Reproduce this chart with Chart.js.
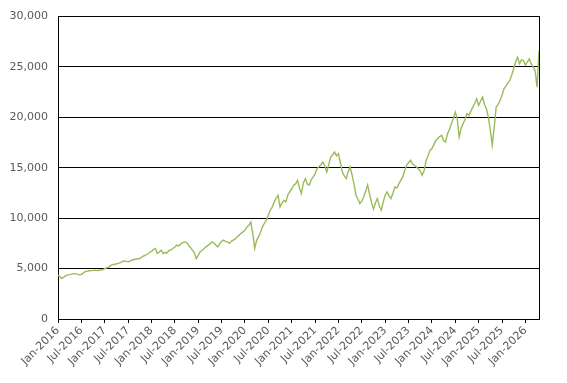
<!DOCTYPE html>
<html>
<head>
<meta charset="utf-8">
<script src="https://cdn.jsdelivr.net/npm/chart.js@4"></script>
<style>
  html, body { margin: 0; padding: 0; background: #fff; }
  #wrap { width: 567px; height: 383px; }
</style>
</head>
<body>
<div id="wrap"><canvas id="c" width="567" height="383"></canvas></div>
<script>
// one value every half month, starting Jan-2016
const stepMonths = 0.5;
const values = [
  // 2016
  4350, 4200, 4030, 4150, 4300, 4380, 4400, 4450, 4500, 4480, 4450, 4380,
  4420, 4550, 4700, 4750, 4780, 4800, 4820, 4850, 4800, 4830, 4850, 4900,
  // 2017
  5000, 5080, 5150, 5300, 5420, 5400, 5480, 5520, 5600, 5700, 5770, 5720,
  5680, 5750, 5850, 5900, 5950, 5970, 6000, 6150, 6250, 6340, 6450, 6600,
  // 2018
  6700, 6900, 7000, 6500, 6650, 6830, 6500, 6600, 6550, 6800, 6850, 7000,
  7150, 7330, 7250, 7450, 7550, 7650, 7600, 7330, 7100, 6830, 6600, 6000,
  // 2019
  6300, 6670, 6800, 7000, 7160, 7300, 7450, 7650, 7550, 7350, 7160, 7450,
  7700, 7820, 7700, 7650, 7500, 7700, 7820, 7950, 8150, 8320, 8500, 8640,
  // 2020
  8800, 9140, 9300, 9630, 8500, 7000, 7800, 8150, 8600, 9140, 9500, 9800,
  10300, 10790, 11100, 11600, 12000, 12280, 11120, 11500, 11780, 11600, 12300, 12600,
  // 2021
  12900, 13270, 13400, 13760, 13000, 12440, 13500, 13930, 13400, 13270, 13800, 14090,
  14400, 14920, 15100, 15300, 15570, 15200, 14580, 15300, 16070, 16300, 16560, 16200,
  // 2022
  16400, 15500, 14580, 14200, 13930, 14600, 15080, 14300, 13400, 12280, 11900, 11450,
  11700, 12110, 12700, 13300, 12400, 11600, 10900, 11500, 11950, 11200, 10790, 11600,
  // 2023
  12300, 12600, 12200, 11950, 12500, 13100, 13000, 13400, 13760, 14090, 14700, 15250,
  15500, 15740, 15400, 15250, 15100, 14900, 14700, 14260, 14700, 15740, 16200, 16730,
  // 2024
  16900, 17300, 17720, 17900, 18100, 18220, 17700, 17550, 18380, 18800, 19370, 19900,
  20520, 19900, 18050, 18900, 19370, 19800, 20360, 20200, 20600, 21020, 21400, 21850,
  // 2025
  21190, 21600, 22010, 21300, 20860, 20030, 18710, 17230, 19040, 21020, 21300, 21680,
  22200, 22840, 23100, 23400, 23660, 24200, 24820, 25500, 25970, 25310, 25700, 25640,
  // 2026
  25200, 25480, 25810, 25300, 24980, 24650, 23000, 26630
];

const tickMonths = [0, 6, 12, 18, 24, 30, 36, 42, 48, 54, 60, 66, 72, 78, 84, 90, 96, 102, 108, 114, 120];
const tickLabels = ['Jan-2016', 'Jul-2016', 'Jan-2017', 'Jul-2017', 'Jan-2018', 'Jul-2018',
  'Jan-2019', 'Jul-2019', 'Jan-2020', 'Jul-2020', 'Jan-2021', 'Jul-2021', 'Jan-2022',
  'Jul-2022', 'Jan-2023', 'Jul-2023', 'Jan-2024', 'Jul-2024', 'Jan-2025', 'Jul-2025', 'Jan-2026'];

const points = values.map((v, i) => ({ x: i * stepMonths, y: v }));
const lastMonth = (values.length - 1) * stepMonths;

const font = { family: 'DejaVu Sans', size: 11 };

new Chart(document.getElementById('c'), {
  type: 'line',
  data: {
    datasets: [{
      data: points,
      borderColor: '#9BBB59',
      borderWidth: 1.4,
      pointRadius: 0,
      tension: 0,
      fill: false
    }]
  },
  options: {
    responsive: false,
    animation: false,
    layout: { padding: { left: 0, top: 16, right: 28, bottom: 0 } },
    plugins: { legend: { display: false }, tooltip: { enabled: false } },
    scales: {
      x: {
        type: 'linear',
        min: 0,
        max: lastMonth,
        afterBuildTicks: (axis) => { axis.ticks = tickMonths.map(v => ({ value: v })); },
        afterFit: (axis) => { axis.height = 64; },
        grid: { drawOnChartArea: false, drawTicks: true, tickLength: 4, color: '#000' },
        border: { display: true, color: '#000', width: 1 },
        ticks: {
          autoSkip: false,
          maxRotation: 45,
          minRotation: 45,
          padding: 1,
          color: '#595959',
          font: font,
          callback: (v) => tickLabels[tickMonths.indexOf(v)]
        }
      },
      y: {
        min: 0,
        max: 30000,
        afterFit: (axis) => { axis.width = 58; },
        grid: { color: '#000', lineWidth: 1, drawTicks: false },
        border: { display: true, color: '#000', width: 1 },
        ticks: {
          stepSize: 5000,
          padding: 10,
          color: '#595959',
          font: font,
          callback: (v) => v.toLocaleString('en-US')
        }
      },
      y2: {
        position: 'right',
        min: 0,
        max: 30000,
        afterFit: (axis) => { axis.width = 0; },
        grid: { display: false, drawTicks: false },
        border: { display: true, color: '#000', width: 1 },
        ticks: { display: false }
      }
    }
  }
});
</script>
</body>
</html>
